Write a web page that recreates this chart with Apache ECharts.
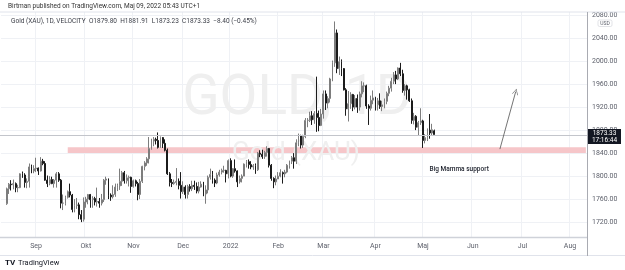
<!DOCTYPE html>
<html><head><meta charset="utf-8">
<script src="https://cdn.jsdelivr.net/npm/echarts@6/dist/echarts.min.js"></script>
<style>html,body{margin:0;padding:0;background:#fff}#c{width:625px;height:270px}</style>
</head><body><div id="c"></div>
<script>
// ---- data (Gold XAU, daily) ----
const axisStart = '2021-08-11';
const axisEnd = '2022-08-10';
const firstDataDate = '2021-08-13';
const lastDataDate = '2022-05-09';
const closedDays = ['2021-12-24', '2021-12-31'];

const opens = [
  1753,1779,1787,1786,1788,1781,1781,1805,1803,1790,1792,1817,1810,
  1814,1815,1810,1827,1823,1794,1788,1795,1788,1794,1805,1794,1754,1754,1764,1774,1768,1743,1750,1751,1734,1726,
  1756,1761,1769,1760,1762,1756,1757,1754,1760,1794,1796,1768,1765,1769,1782,1784,1792,1807,1793,1798,1799,
  1783,1793,1788,1769,1792,1818,1824,1831,1849,1862,1865,1863,1851,1868,1858,1846,1805,1790,1788,1790,1792,1785,
  1774,1782,1769,1783,1779,1785,1783,1775,1782,1787,1770,1777,1799,1804,1794,1789,1803,1808,1811,1811,1805,
  1828,1801,1814,1810,1791,1797,1801,1822,1826,1821,1817,1819,1812,1841,1839,1835,1842,1849,1820,1797,1791,
  1796,1801,1807,1805,1808,1820,1827,1833,1827,1859,1871,1855,1870,1898,1898,1906,1899,1910,1903,1889,
  1909,1944,1928,1936,1970,1998,2050,1988,2000,1988,1951,1918,1927,1943,1921,1936,1921,1944,1958,1958,1923,1919,1933,
  1937,1925,1932,1922,1925,1931,1945,1954,1966,1977,1970,1989,1979,1950,1958,1951,1932,1898,1905,1886,1894,
  1897,1863,1868,1881,1876,1879.80
];
const highs = [
  1781,1789,1794,1795,1790,1786,1806,1809,1806,1797,1823,1821,1820,
  1833,1816,1834,1831,1827,1802,1801,1800,1796,1808,1808,1796,1769,1767,1776,1788,1770,1761,1763,1755,1742,1764,
  1765,1770,1770,1766,1765,1781,1763,1770,1796,1800,1797,1771,1785,1788,1788,1814,1810,1810,1804,1802,1800,
  1795,1795,1791,1796,1819,1827,1834,1869,1866,1869,1868,1877,1870,1869,1865,1849,1808,1796,1795,1815,1797,1808,
  1792,1785,1786,1787,1793,1793,1790,1791,1792,1791,1785,1802,1814,1810,1797,1807,1812,1814,1819,1812,1830,
  1832,1815,1830,1811,1802,1804,1823,1829,1830,1827,1822,1823,1843,1846,1847,1845,1853,1850,1822,1799,1802,
  1808,1813,1809,1812,1822,1828,1836,1841,1865,1875,1873,1873,1902,1902,1913,1914,1914,1974,1915,1918,
  1950,1950,1940,1972,2002,2070,2056,2009,2004,1989,1954,1949,1947,1944,1942,1943,1948,1966,1964,1960,1926,1941,1950,
  1939,1937,1945,1932,1936,1948,1958,1972,1982,1984,1990,1998,1986,1961,1960,1953,1936,1911,1907,1897,1919,
  1899,1874,1884,1909,1892,1881.91
];
const lows = [
  1751,1770,1776,1778,1773,1773,1780,1798,1781,1780,1781,1806,1806,
  1808,1803,1809,1820,1793,1782,1785,1787,1781,1781,1791,1745,1742,1750,1762,1764,1738,1738,1744,1726,1721,1722,
  1746,1752,1746,1746,1750,1748,1746,1750,1756,1786,1761,1758,1762,1765,1775,1777,1784,1788,1788,1783,1772,
  1781,1783,1759,1761,1789,1811,1819,1823,1847,1853,1856,1849,1850,1850,1844,1803,1783,1782,1786,1785,1778,1762,
  1770,1762,1762,1774,1775,1777,1771,1771,1781,1766,1753,1771,1795,1788,1782,1787,1800,1804,1807,1790,1797,
  1799,1798,1807,1782,1788,1790,1801,1816,1814,1813,1812,1805,1810,1834,1831,1831,1835,1816,1793,1780,1785,
  1796,1799,1788,1799,1806,1814,1822,1814,1822,1853,1849,1850,1867,1886,1895,1890,1892,1878,1879,1888,
  1901,1916,1919,1929,1966,1991,1980,1977,1975,1950,1906,1896,1918,1914,1917,1911,1915,1938,1947,1918,1890,1915,1926,
  1915,1915,1918,1914,1919,1926,1940,1948,1961,1961,1968,1975,1946,1941,1934,1930,1892,1891,1881,1872,1890,
  1850,1858,1862,1866,1872,1873.23
];
const closes = [
  1779,1787,1786,1788,1781,1781,1805,1803,1790,1792,1817,1810,1814,
  1815,1810,1827,1823,1794,1788,1795,1788,1794,1805,1794,1754,1754,1764,1774,1768,1743,1750,1751,1734,1726,1756,
  1761,1769,1760,1762,1756,1757,1754,1760,1794,1796,1768,1765,1769,1782,1784,1792,1807,1793,1798,1799,1783,
  1793,1788,1769,1792,1818,1824,1831,1849,1862,1865,1863,1851,1868,1858,1846,1805,1790,1788,1790,1792,1785,1774,
  1782,1769,1783,1779,1785,1783,1775,1782,1787,1770,1777,1799,1804,1794,1789,1803,1808,1811,1811,1805,1828,
  1801,1814,1810,1791,1797,1801,1822,1826,1821,1817,1819,1812,1841,1839,1835,1842,1849,1820,1797,1791,1796,
  1801,1807,1805,1808,1820,1827,1833,1827,1859,1871,1855,1870,1898,1898,1906,1899,1910,1903,1889,1909,
  1944,1928,1936,1970,1998,2050,1988,2000,1988,1951,1918,1927,1943,1921,1936,1921,1944,1958,1958,1923,1919,1933,1937,
  1925,1932,1922,1925,1931,1945,1954,1966,1977,1970,1989,1979,1950,1958,1951,1932,1898,1905,1886,1894,1897,
  1863,1868,1881,1876,1881.73,1873.33
];

const monthLabels = {
  '2021-09':'Sep','2021-10':'Okt','2021-11':'Nov','2021-12':'Dec','2022-01':'2022','2022-02':'Feb',
  '2022-03':'Mar','2022-04':'Apr','2022-05':'Maj','2022-06':'Jun','2022-07':'Jul','2022-08':'Aug'
};
const priceMin = 1680, priceMax = 2107.3, priceStep = 40;
const supportBand = { from: '2021-09-21', to: axisEnd, low: 1841, high: 1851 };
const arrow = { from: ['2022-06-17', 1848], to: ['2022-06-28', 1948] };
const note = { text: 'Big Mamma support', at: ['2022-05-24', 1813] };
const countdown = '17:16:44';

// ---- build ----
function weekdays(start, end, skip) {
  const out = [];
  const d = new Date(start + 'T00:00:00Z');
  const e = new Date(end + 'T00:00:00Z');
  while (d <= e) {
    const w = d.getUTCDay();
    const s = d.toISOString().slice(0, 10);
    if (w !== 0 && w !== 6 && skip.indexOf(s) < 0) out.push(s);
    d.setUTCDate(d.getUTCDate() + 1);
  }
  return out;
}
const categories = weekdays(axisStart, axisEnd, closedDays);
const dataDates = weekdays(firstDataDate, lastDataDate, closedDays);
const byDate = {};
dataDates.forEach((d, i) => { byDate[d] = [opens[i], closes[i], lows[i], highs[i]]; });
const candleData = categories.map(d => byDate[d] || '-');

const monthStart = {};
categories.forEach((d, i) => { const m = d.slice(0, 7); if (!(m in monthStart)) monthStart[m] = i; });
const isMonthStart = (i, v) => monthStart[v.slice(0, 7)] === i && monthLabels[v.slice(0, 7)] !== undefined;

const n = opens.length;
const lastO = opens[n-1], lastH = highs[n-1], lastL = lows[n-1], lastC = closes[n-1], prevC = closes[n-2];
const chg = lastC - prevC;
const pct = chg / prevC * 100;
const sgn = v => (v < 0 ? '\u2212' : '+') + Math.abs(v).toFixed(2);
const headerLine = 'Gold (XAU), 1D, VELOCITY  O' + lastO.toFixed(2) + '  H' + lastH.toFixed(2) +
  '  L' + lastL.toFixed(2) + '  C' + lastC.toFixed(2) + '  ' + sgn(chg) + ' (' + sgn(pct) + '%)';

const FONT = 'Roboto, "Liberation Sans", sans-serif';
const chart = echarts.init(document.getElementById('c'), null, { renderer: 'canvas' });

chart.setOption({
  animation: false,
  backgroundColor: '#ffffff',
  textStyle: { fontFamily: FONT },
  grid: { left: 1, right: 38, top: 0, bottom: 24.3, containLabel: false },
  xAxis: [
    {
      type: 'category', data: categories, boundaryGap: true, z: 0,
      axisLine: { show: false }, axisTick: { show: false }, axisLabel: { show: false },
      splitLine: { show: true, interval: isMonthStart, lineStyle: { color: '#eff1f5', width: 1 } }
    },
    {
      type: 'category', data: categories, boundaryGap: true, position: 'bottom', z: 20,
      axisLine: { show: false }, axisTick: { show: false }, splitLine: { show: false },
      axisLabel: {
        show: true, interval: isMonthStart, margin: -2.5, fontSize: 7, color: '#5d606b', fontFamily: FONT,
        formatter: v => monthLabels[v.slice(0, 7)] || ''
      }
    }
  ],
  yAxis: {
    type: 'value', position: 'right', min: priceMin, max: priceMax, interval: priceStep, z: 0,
    axisLine: { show: false }, axisTick: { show: false },
    splitLine: { show: true, lineStyle: { color: '#eff1f5', width: 1 } },
    axisLabel: {
      margin: 5, fontSize: 7, color: '#5d606b', fontFamily: FONT, showMaxLabel: false,
      formatter: v => (v > priceMin && v < priceMax) ? v.toFixed(2) : ''
    }
  },
  series: [{
    type: 'candlestick',
    xAxisIndex: 0,
    data: candleData,
    barWidth: '62%',
    itemStyle: { color: '#ffffff', color0: '#1b1b1b', borderColor: '#7d7d7d', borderColor0: '#1b1b1b', borderWidth: 1 },
    markArea: {
      silent: true,
      itemStyle: { color: '#f6c6c9' },
      data: [[{ xAxis: supportBand.from, yAxis: supportBand.low }, { xAxis: supportBand.to, yAxis: supportBand.high }]]
    },
    markLine: {
      silent: true, animation: false,
      symbol: ['none', 'none'],
      label: { show: false },
      lineStyle: { color: '#505050', width: 0.8, type: 'solid' },
      emphasis: { disabled: true },
      data: [
        [
          { coord: arrow.from, symbol: 'none' },
          { coord: arrow.to, symbol: 'path://M0,10L5,0L10,10L9,10L5,2L1,10Z', symbolSize: [6, 6] }
        ]
      ]
    },
    markPoint: {
      silent: true,
      symbol: 'circle', symbolSize: 1,
      itemStyle: { color: 'rgba(0,0,0,0)' },
      label: { show: true, position: 'inside', color: '#1e222d', fontSize: 6.5, fontWeight: 500, fontFamily: FONT,
        formatter: () => note.text },
      data: [{ coord: note.at }]
    }
  }]
});

const py = Math.round(chart.convertToPixel({ yAxisIndex: 0 }, lastC)) + 0.5;
const axisX = 587.5;
chart.setOption({
  graphic: [
    // watermark
    { type: 'text', z: 1, silent: true, x: 297, y: 100,
      style: { text: 'GOLD, 1D', fill: '#efefef', fontSize: 55, fontFamily: FONT, textAlign: 'center', textVerticalAlign: 'middle' } },
    { type: 'text', z: 1, silent: true, x: 296, y: 153,
      style: { text: 'Gold (XAU)', fill: '#efefef', fontSize: 26, fontFamily: FONT, textAlign: 'center', textVerticalAlign: 'middle' } },
    // last price line
    { type: 'line', z: 3, silent: true, shape: { x1: 0, y1: py, x2: axisX, y2: py }, style: { stroke: '#c3c5cb', lineWidth: 1 } },
    // top cover & header
    { type: 'rect', z: 30, silent: true, shape: { x: 0, y: 0, width: 625, height: 12 }, style: { fill: '#ffffff' } },
    { type: 'line', z: 31, silent: true, shape: { x1: 0, y1: 12, x2: 625, y2: 12 }, style: { stroke: '#e0e3eb', lineWidth: 1 } },
    { type: 'text', z: 31, silent: true, x: 8, y: 6,
      style: { text: 'Birtman published on TradingView.com, Maj 09, 2022 05:43 UTC+1', fill: '#333333', fontSize: 6.5, fontFamily: FONT, textVerticalAlign: 'middle' } },
    { type: 'text', z: 31, silent: true, x: 11, y: 21,
      style: { text: headerLine, fill: '#3b3e47', fontSize: 6.5, fontFamily: FONT, textVerticalAlign: 'middle' } },
    // time axis cover
    { type: 'rect', z: 10, silent: true, shape: { x: 0, y: 237.5, width: axisX, height: 18 }, style: { fill: '#ffffff' } },
    { type: 'rect', z: 10, silent: true, shape: { x: 0, y: 255.5, width: 625, height: 15 }, style: { fill: '#ffffff' } },
    { type: 'line', z: 31, silent: true, shape: { x1: 0, y1: 237.5, x2: axisX, y2: 237.5 }, style: { stroke: '#cfd2d9', lineWidth: 1.5 } },
    { type: 'line', z: 31, silent: true, shape: { x1: 0, y1: 255.5, x2: 625, y2: 255.5 }, style: { stroke: '#e0e3eb', lineWidth: 1 } },
    { type: 'line', z: 31, silent: true, shape: { x1: axisX, y1: 12, x2: axisX, y2: 256 }, style: { stroke: '#a9abb2', lineWidth: 1 } },
    // USD
    { type: 'rect', z: 31, silent: true, shape: { x: 598, y: 20, width: 14, height: 6.5, r: 1.5 }, style: { fill: '#ffffff', stroke: '#d5d7dd', lineWidth: 0.7 } },
    { type: 'text', z: 32, silent: true, x: 605, y: 23.4,
      style: { text: 'USD', fill: '#5d606b', fontSize: 5, fontFamily: FONT, textAlign: 'center', textVerticalAlign: 'middle' } },
    // last price label
    { type: 'rect', z: 33, silent: true, shape: { x: axisX + 0.5, y: py - 6.5, width: 33, height: 15 }, style: { fill: '#131722' } },
    { type: 'text', z: 34, silent: true, x: axisX + 17, y: py - 2.5,
      style: { text: lastC.toFixed(2), fill: '#ffffff', fontSize: 6.5, fontFamily: FONT, textAlign: 'center', textVerticalAlign: 'middle' } },
    { type: 'text', z: 34, silent: true, x: axisX + 17, y: py + 4.5,
      style: { text: countdown, fill: '#ffffff', fontSize: 6.5, fontFamily: FONT, textAlign: 'center', textVerticalAlign: 'middle' } },
    // TradingView logo
    { type: 'text', z: 32, silent: true, x: 5, y: 263,
      style: { text: 'TV', fill: '#131722', fontSize: 8, fontWeight: 'bold', fontFamily: FONT, textVerticalAlign: 'middle' } },
    { type: 'text', z: 32, silent: true, x: 18, y: 263,
      style: { text: 'TradingView', fill: '#131722', fontSize: 7.5, fontFamily: FONT, textVerticalAlign: 'middle' } }
  ]
});
</script>
</body></html>
